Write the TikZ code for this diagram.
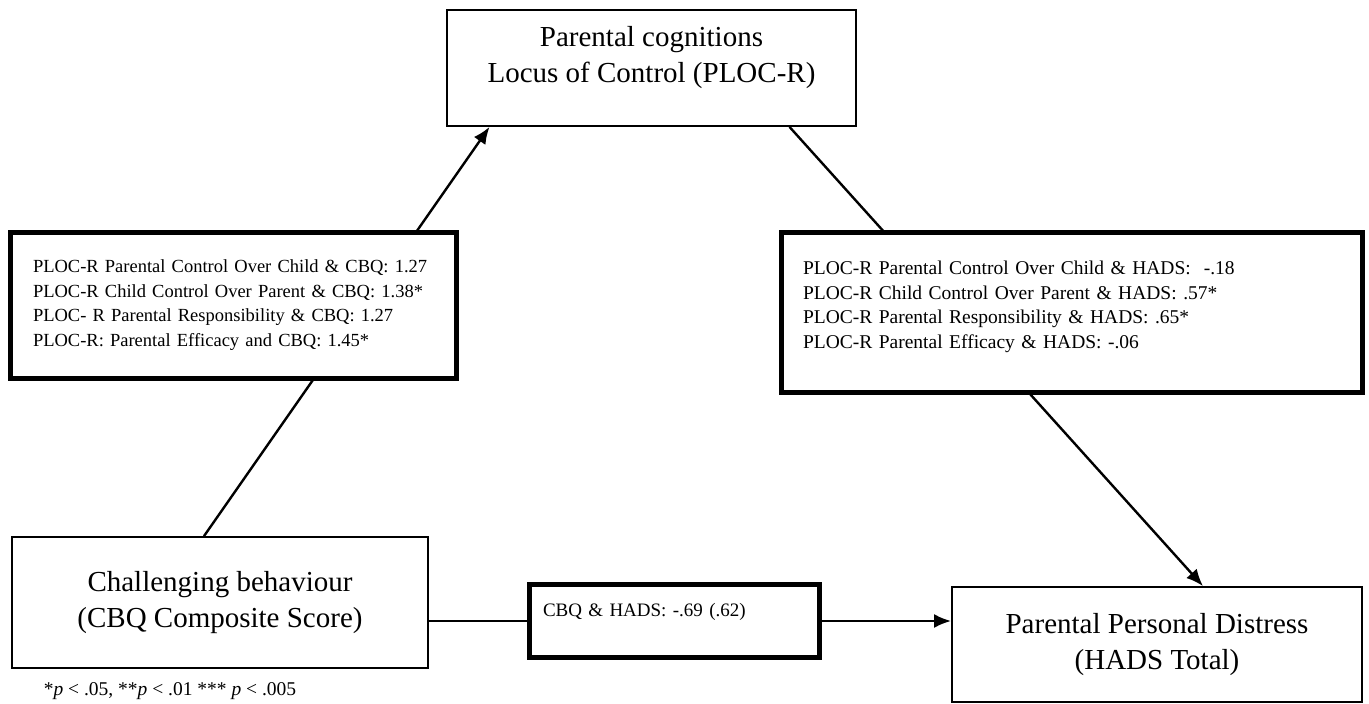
\documentclass[tikz,border=0pt]{standalone}
\usepackage{fontspec}
\setmainfont{Liberation Serif}
\usepackage{tikz}
\usetikzlibrary{shapes,arrows.meta}

\begin{document}
\begin{tikzpicture}[x=1pt, y=-1pt, >={Latex[length=17pt,width=14pt]}]
    \tikzstyle{var} = [rectangle, draw, line width=1.8pt, align=center,
        font=\fontsize{29}{36}\selectfont, inner sep=0pt]
    \tikzstyle{stats} = [rectangle, draw, fill=white, line width=5pt, align=left,
        font=\fontsize{18.5}{24.5}\selectfont, inner sep=0pt]
    \tikzstyle{line} = [draw, line width=2.4pt]

    \useasboundingbox (0,0) rectangle (1369,704);

    \node [var, minimum width=409pt, minimum height=116pt] (cognitions) at (651.5,68)
        {Parental cognitions\\Locus of Control (PLOC-R)\\[-9pt]};
    \node [var, minimum width=416pt, minimum height=131pt] (behaviour) at (220,602.5)
        {Challenging behaviour\\(CBQ Composite Score)};
    \node [var, minimum width=410pt, minimum height=115pt] (distress) at (1157,644.5)
        {Parental Personal Distress\\(HADS Total)};

    % paths run behind the boxes of coefficients
    \path [line, ->] ([xshift=-16pt]behaviour.north) -- ([xshift=-162pt]cognitions.south);
    \path [line, ->] ([xshift=138pt]cognitions.south) -- ([xshift=46pt]distress.north);

    \node [stats, minimum width=446pt, minimum height=146pt, text width=400pt] (cbqbox) at (233,305)
        {PLOC-R Parental Control Over Child \& CBQ: 1.27\\
         PLOC-R Child Control Over Parent \& CBQ: 1.38*\\
         PLOC- R Parental Responsibility \& CBQ: 1.27\\
         PLOC-R: Parental Efficacy and CBQ: 1.45*};
    \node [stats, minimum width=581pt, minimum height=160pt, text width=537pt,
        font=\fontsize{19.5}{24.5}\selectfont] (hadsbox) at (1071.5,312)
        {PLOC-R Parental Control Over Child \& HADS:~ -.18\\
         PLOC-R Child Control Over Parent \& HADS: .57*\\
         PLOC-R Parental Responsibility \& HADS: .65*\\
         PLOC-R Parental Efficacy \& HADS: -.06\rule[-15pt]{0pt}{15pt}};
    \node [stats, minimum width=290pt, minimum height=73pt, text width=262pt,
        font=\fontsize{19}{23}\selectfont] (direct) at (674,621)
        {CBQ \& HADS: -.69 (.62)\rule[-22pt]{0pt}{22pt}};

    \path [line] (direct.west -| behaviour.east) -- (direct.west);
    \path [line, ->] (direct.east) -- (direct.east -| distress.west);

    \node [font=\fontsize{19.5}{24}\selectfont] (sig) at (170,691)
        {*\textit{p} < .05, **\textit{p} < .01 *** \textit{p} < .005};
\end{tikzpicture}
\end{document}
